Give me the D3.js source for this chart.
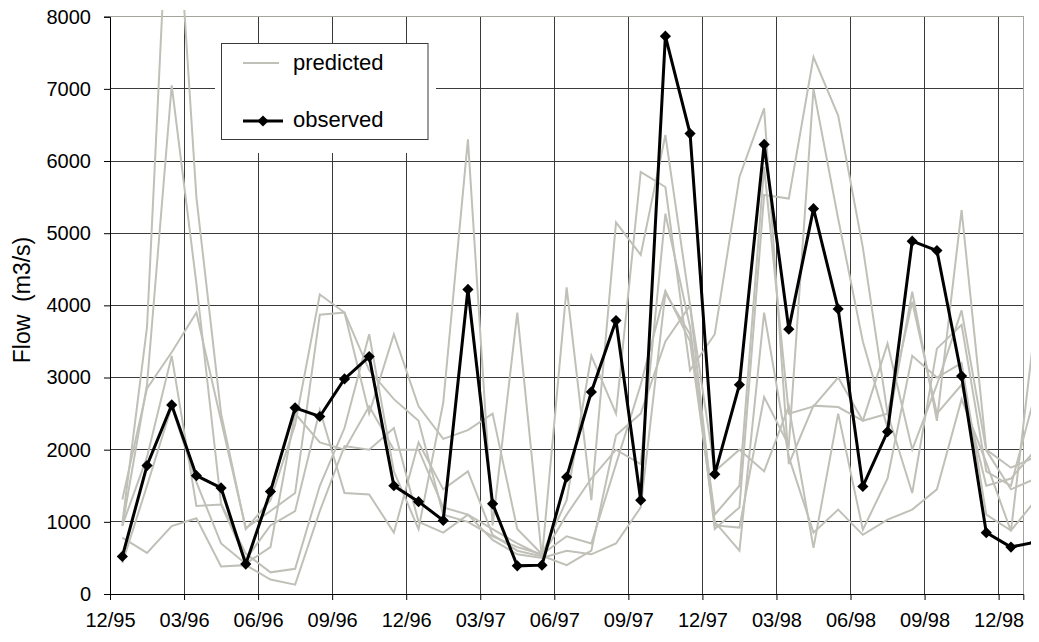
<!DOCTYPE html>
<html>
<head>
<meta charset="utf-8">
<script src="https://cdn.jsdelivr.net/npm/d3@7"></script>
<style>
  html, body { margin: 0; padding: 0; background: #fff; }
  svg { display: block; }
  text { font-family: "Liberation Sans", Arial, sans-serif; fill: #000; }
</style>
</head>
<body>
<svg id="chart" width="1039" height="642"></svg>
<script>
// Monthly flow, Dec 1995 onward (one value per month, plotted mid-month)
const observed = [520, 1780, 2620, 1640, 1470, 414, 1420, 2580, 2460, 2980,
  3290, 1500, 1280, 1020, 4220, 1250, 390, 400, 1620, 2800,
  3790, 1300, 7730, 6380, 1660, 2900, 6230, 3670, 5340, 3950,
  1490, 2250, 4890, 4760, 3020, 850, 650, 720];

// Model runs (predicted flow)
const predicted1 = [980, 3700, 10800, 5500, 2500, 900, 1300, 2350, 4150, 3900,
  3100, 2700, 2400, 1100, 1000, 800, 650, 550, 800, 700,
  1800, 2900, 4200, 3500, 1000, 600, 3900, 1900, 850, 1170,
  820, 1030, 1170, 1450, 2700, 1820, 870, 3800];
const predicted2 = [940, 2900, 7050, 4300, 1250, 560, 300, 350, 1500, 2300,
  3600, 1700, 900, 2650, 6300, 950, 3900, 500, 4250, 1300,
  5150, 4700, 6360, 4000, 950, 920, 2730, 2060, 7000, 5200,
  3500, 2300, 4190, 2400, 5320, 2000, 1750, 1900];
const predicted3 = [1310, 2850, 3350, 3900, 2400, 910, 1150, 1400, 3870, 3900,
  2500, 3600, 2600, 2150, 2270, 2500, 900, 550, 1300, 3300,
  2500, 5850, 5640, 3100, 3600, 5780, 6730, 1800, 2610, 2590,
  2400, 3470, 2000, 2900, 3930, 1990, 1450, 1600];
const predicted4 = [950, 1900, 3300, 1220, 1240, 480, 950, 1150, 2550, 1400,
  1380, 850, 2100, 1450, 1700, 820, 600, 520, 1100, 1600,
  2000, 1800, 5270, 3700, 900, 1200, 5530, 5480, 7440, 6630,
  4800, 2500, 1400, 3400, 3730, 1700, 1500, 2800];
const predicted5 = [780, 570, 940, 1050, 380, 400, 200, 130, 1150, 2050,
  2000, 2300, 1000, 850, 1100, 900, 700, 530, 400, 600,
  2200, 2500, 3500, 4000, 1700, 2000, 1700, 2600, 640, 2500,
  890, 1600, 3300, 3000, 3200, 1100, 880, 1300];
const predicted6 = [430, 1500, 2600, 1550, 700, 420, 650, 2500, 2100, 2000,
  2600, 2000, 2000, 1200, 1100, 750, 550, 500, 600, 550,
  700, 1200, 4170, 3600, 1100, 1500, 5920, 2500, 2600, 3000,
  2400, 2500, 4050, 2500, 2900, 1500, 1600, 2000];
const predictedRuns = [predicted1, predicted2, predicted3, predicted4, predicted5, predicted6];

// Quarter gridlines: month offset from Dec 1995 and its label
const quarterMonths = [0, 3, 6, 9, 12, 15, 18, 21, 24, 27, 30, 33, 36];
const quarterLabels = ["12/95", "03/96", "06/96", "09/96", "12/96", "03/97", "06/97",
  "09/97", "12/97", "03/98", "06/98", "09/98", "12/98"];
const flowTicks = [0, 1000, 2000, 3000, 4000, 5000, 6000, 7000, 8000];

const svg = d3.select("#chart");
const plotLeft = 110, plotRight = 1023.3, plotTop = 16.7, plotBottom = 594;

const x = d3.scaleLinear().domain([0, 37]).range([plotLeft, plotRight]);
const y = d3.scaleLinear().domain([0, 8000]).range([plotBottom, plotTop]);

// horizontal gridlines
svg.append("g").selectAll("line")
  .data(flowTicks.filter(v => v > 0 && v < 8000))
  .join("line")
  .attr("x1", plotLeft).attr("x2", plotRight)
  .attr("y1", d => y(d)).attr("y2", d => y(d))
  .attr("stroke", "#3a3a3a").attr("stroke-width", 1)
  .attr("shape-rendering", "crispEdges");

// vertical gridlines
svg.append("g").selectAll("line")
  .data(quarterMonths.filter(m => m > 0))
  .join("line")
  .attr("x1", d => x(d)).attr("x2", d => x(d))
  .attr("y1", plotTop).attr("y2", plotBottom)
  .attr("stroke", "#3a3a3a").attr("stroke-width", 1)
  .attr("shape-rendering", "crispEdges");

// plot frame (top and right edges)
svg.append("path")
  .attr("d", `M${plotLeft},${plotTop}H${plotRight}V${plotBottom}`)
  .attr("fill", "none").attr("stroke", "#a4a49c").attr("stroke-width", 1.2)
  .attr("shape-rendering", "crispEdges");

// clip for series lines
svg.append("clipPath").attr("id", "plotClip")
  .append("rect").attr("x", plotLeft).attr("y", 10).attr("width", 1031 - plotLeft).attr("height", 600);

const line = d3.line()
  .x((d, i) => x(i + 0.5))
  .y(d => y(d));

const series = svg.append("g").attr("clip-path", "url(#plotClip)");

series.selectAll("path.pred")
  .data(predictedRuns)
  .join("path")
  .attr("class", "pred")
  .attr("d", line)
  .attr("fill", "none")
  .attr("stroke", "#c0c0b8")
  .attr("stroke-width", 2)
  .attr("stroke-linejoin", "miter");

series.append("path")
  .attr("d", line(observed))
  .attr("fill", "none")
  .attr("stroke", "#000")
  .attr("stroke-width", 3);

const diamond = d3.symbol().type(d3.symbolDiamond2).size(80);
series.selectAll("path.obs")
  .data(observed)
  .join("path")
  .attr("class", "obs")
  .attr("transform", (d, i) => `translate(${x(i + 0.5)},${y(d)})`)
  .attr("d", diamond)
  .attr("fill", "#000");

// axes
const yAxis = d3.axisLeft(y).tickValues(flowTicks).tickSize(6).tickPadding(13)
  .tickFormat(d3.format("d"));
const gy = svg.append("g").attr("transform", `translate(${plotLeft},0)`).call(yAxis);
gy.select(".domain").attr("stroke", "#000");
gy.selectAll(".tick line").attr("stroke", "#000");
gy.selectAll("text").attr("font-size", 20).attr("font-family", "Liberation Sans, Arial, sans-serif");

const xAxis = d3.axisBottom(x).tickValues(quarterMonths).tickSize(6).tickPadding(13)
  .tickFormat((d, i) => quarterLabels[i]);
const gx = svg.append("g").attr("transform", `translate(0,${plotBottom})`).call(xAxis);
gx.select(".domain").attr("stroke", "#000");
gx.selectAll(".tick line").attr("stroke", "#000");
gx.selectAll("text").attr("font-size", 20).attr("font-family", "Liberation Sans, Arial, sans-serif");

// y-axis title
svg.append("text")
  .attr("transform", "translate(30,300) rotate(-90)")
  .attr("text-anchor", "middle")
  .attr("font-size", 23)
  .attr("xml:space", "preserve")
  .text("Flow  (m3/s)");

// legend
svg.append("rect").attr("x", 215).attr("y", 43).attr("width", 221).attr("height", 110).attr("fill", "#fff");
const lg = svg.append("g");
lg.append("rect").attr("x", 221.5).attr("y", 43.5).attr("width", 206.5).attr("height", 96)
  .attr("fill", "#fff").attr("stroke", "#3a3a3a").attr("stroke-width", 1);
lg.append("line").attr("x1", 243).attr("x2", 279).attr("y1", 63).attr("y2", 63)
  .attr("stroke", "#c0c0b8").attr("stroke-width", 2);
lg.append("text").attr("x", 293).attr("y", 70).attr("font-size", 22).text("predicted");
lg.append("line").attr("x1", 243).attr("x2", 283).attr("y1", 121).attr("y2", 121)
  .attr("stroke", "#000").attr("stroke-width", 3);
lg.append("path").attr("transform", "translate(263,121)").attr("d", diamond).attr("fill", "#000");
lg.append("text").attr("x", 293).attr("y", 127).attr("font-size", 22).text("observed");
</script>
</body>
</html>
